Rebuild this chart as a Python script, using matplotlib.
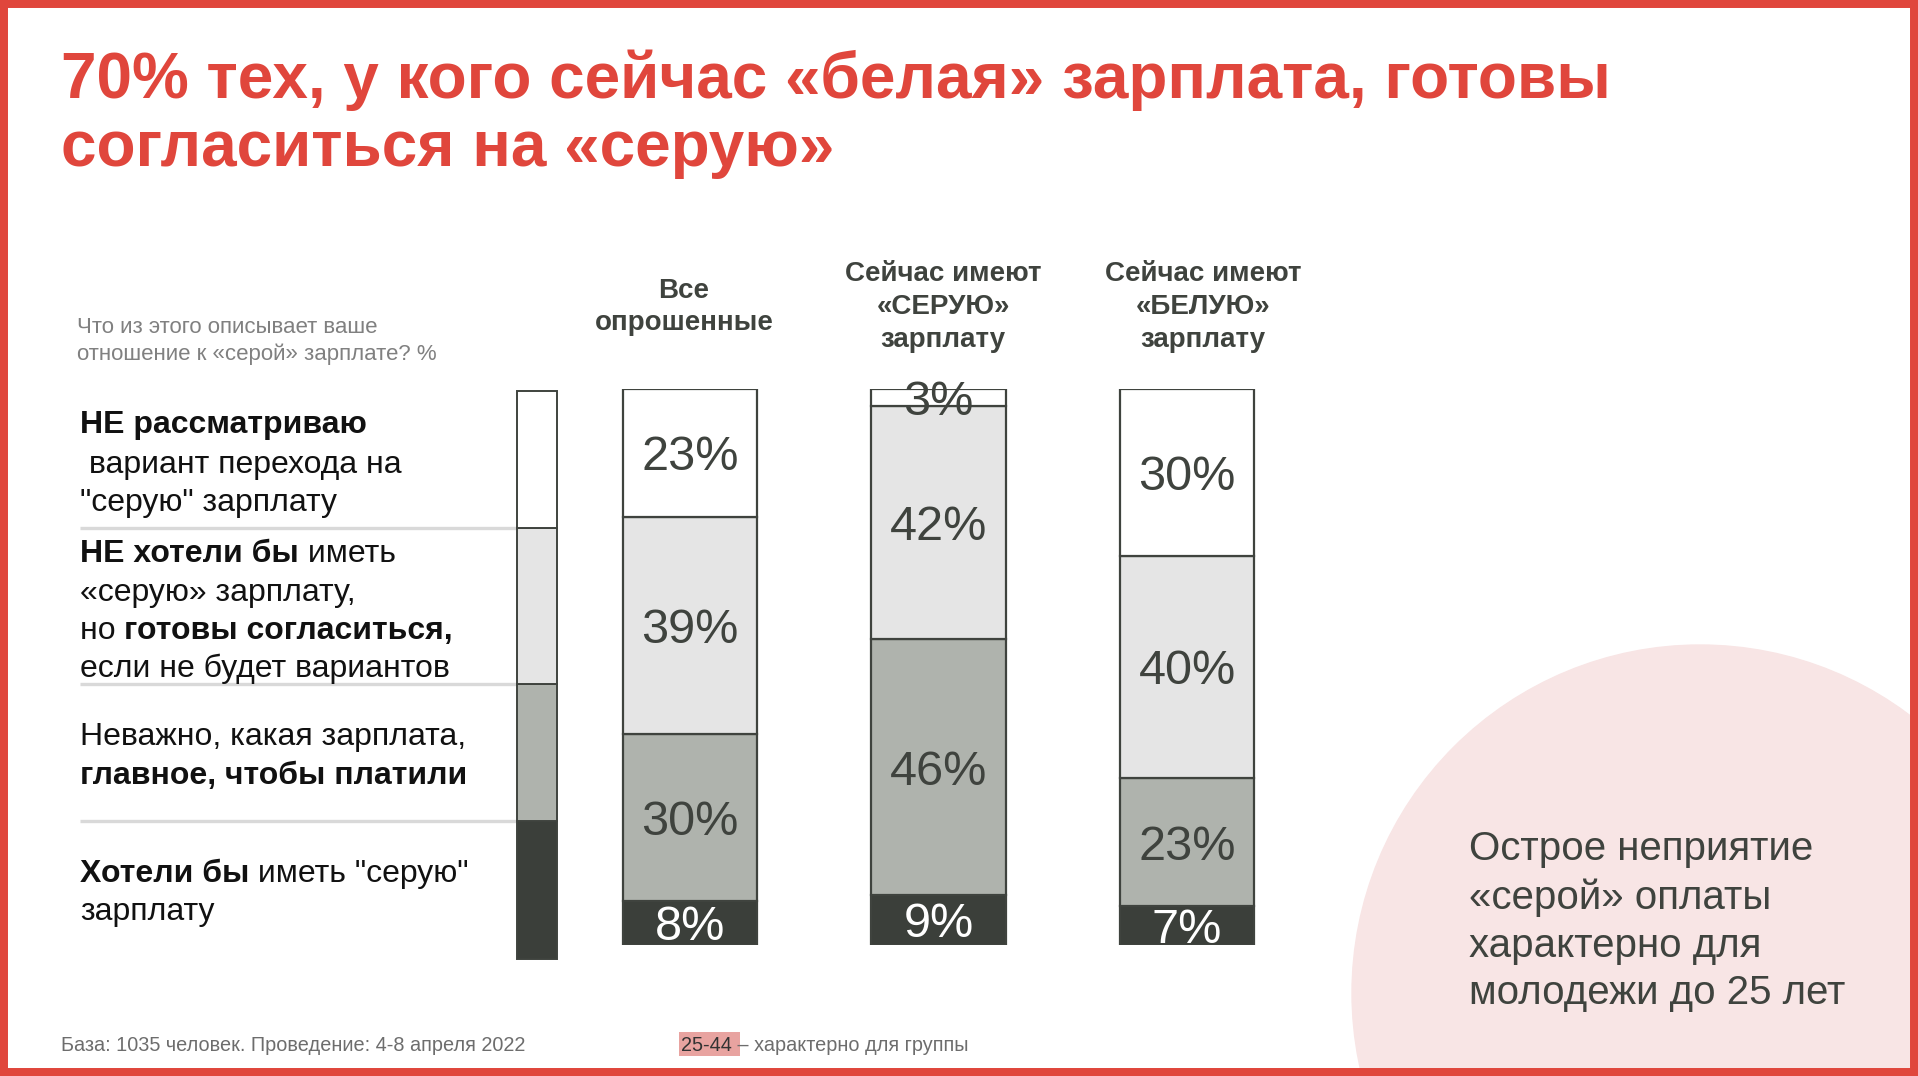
import matplotlib
matplotlib.use('Agg')
import matplotlib.pyplot as plt
from matplotlib.patches import Rectangle, Circle

# --- data ---
groups = ['Все\nопрошенные', 'Сейчас имеют\n«СЕРУЮ»\nзарплату', 'Сейчас имеют\n«БЕЛУЮ»\nзарплату']
reject = [23, 3, 30]       # НЕ рассматриваю
reluctant = [39, 42, 40]   # НЕ хотели бы, но готовы согласиться
neutral = [30, 46, 23]     # Неважно, какая зарплата
want = [8, 9, 7]           # Хотели бы иметь "серую"

title_lines = ['70% тех, у кого сейчас «белая» зарплата, готовы', 'согласиться на «серую»']
question = ['Что из этого описывает ваше', 'отношение к «серой» зарплате? %']
legend_lines = [
    [[('НЕ рассматриваю', 'bold')],
     [(' вариант перехода на', 'normal')],
     [('"серую" зарплату', 'normal')]],
    [[('НЕ хотели бы', 'bold'), (' иметь', 'normal')],
     [('«серую» зарплату,', 'normal')],
     [('но ', 'normal'), ('готовы согласиться,', 'bold')],
     [('если не будет вариантов', 'normal')]],
    [[('Неважно, какая зарплата,', 'normal')],
     [('главное, чтобы платили', 'bold')]],
    [[('Хотели бы', 'bold'), (' иметь "серую"', 'normal')],
     [('зарплату', 'normal')]],
]
note_lines = ['Острое неприятие', '«серой» оплаты', 'характерно для', 'молодежи до 25 лет']
footer = 'База: 1035 человек. Проведение: 4-8 апреля 2022'
group_tag = '25-44'
group_note = ' – характерно для группы'

# --- style ---
RED = '#E0463C'
EDGE = '#3F433E'
TXT = '#3F433E'
seg_colors = ['#3B3F3A', '#AFB3AD', '#E5E5E5', '#FFFFFF']  # bottom -> top

W, H = 1918, 1076
plt.rcParams['font.family'] = ['Liberation Sans', 'DejaVu Sans']

fig = plt.figure(figsize=(W / 100, H / 100), dpi=100)
bg = fig.add_axes([0, 0, 1, 1])
bg.set_xlim(0, W)
bg.set_ylim(H, 0)
bg.axis('off')
renderer = fig.canvas.get_renderer()


def text_width(s, **kw):
    t = bg.text(0, 0, '|' + s + '|', **kw)
    w = t.get_window_extent(renderer).width
    t.remove()
    t = bg.text(0, 0, '||', **kw)
    w0 = t.get_window_extent(renderer).width
    t.remove()
    return w - w0


def rich_line(x, y, runs, **kw):
    for txt, weight in runs:
        bg.text(x, y, txt, fontweight=weight, ha='left', va='baseline', **kw)
        x += text_width(txt, fontweight=weight, **kw)
    return x


# background circle
bg.add_patch(Circle((1700, 993), 348, color='#F8E5E5', zorder=1))

# title
for txt, yb in zip(title_lines, [98, 166]):
    bg.text(61, yb, txt, fontsize=46, fontweight='bold', color=RED, va='baseline', zorder=3)

# question
for txt, yb in zip(question, [333, 360]):
    bg.text(77, yb, txt, fontsize=16, color='#808080', va='baseline', zorder=3)

# legend text and separators
legend_baselines = [[433, 473, 511], [562, 601, 639, 677], [745, 784], [882, 920]]
for block, ys in zip(legend_lines, legend_baselines):
    for runs, yb in zip(block, ys):
        rich_line(80, yb, runs, fontsize=23, color='#111111', zorder=3)

legend_edges = [959, 821, 684, 528, 391]  # bottom -> top
for y in legend_edges[1:4]:
    bg.plot([80, 517], [y, y], color='#D9D9D9', lw=2.4, solid_capstyle='butt', zorder=2)
for i, c in enumerate(seg_colors):
    y0, y1 = legend_edges[i], legend_edges[i + 1]
    bg.add_patch(Rectangle((517, y1), 40, y0 - y1, facecolor=c, edgecolor=EDGE, lw=1.4, zorder=3))

# bars
bx0, bx1 = 690 - 248.5 / 2, 1187 + 248.5 / 2
by_top, by_bot = 389, 945
ax = fig.add_axes([bx0 / W, (H - by_bot) / H, (bx1 - bx0) / W, (by_bot - by_top) / H])
ax.set_xlim(-0.5, 2.5)
ax.set_ylim(0, 100)
ax.axis('off')
ax.patch.set_alpha(0)

xs = list(range(len(groups)))
bottom = [0] * len(groups)
for vals, color in zip([want, neutral, reluctant, reject], seg_colors):
    ax.bar(xs, vals, 0.543, bottom=bottom, color=color, edgecolor=EDGE, lw=1.6)
    lab_color = 'white' if vals is want else TXT
    for x, v, b in zip(xs, vals, bottom):
        ax.text(x, b + v / 2, f'{v}%', ha='center', va='center_baseline',
                fontsize=35, color=lab_color, clip_on=False)
    bottom = [b + v for b, v in zip(bottom, vals)]

# column headers sit slightly off the bar centres in the original slide
head_px = [684, 943, 1203]
for hx, g in zip(head_px, groups):
    bg.text(hx, 307, g, ha='center', va='center', fontsize=20, fontweight='bold',
            color=TXT, linespacing=1.33, zorder=3)

# note in circle
for txt, yb in zip(note_lines, [860, 909, 957, 1004]):
    bg.text(1469, yb, txt, fontsize=29, color=TXT, va='baseline', zorder=3)

# footer
bg.text(61, 1051, footer, fontsize=14.3, color='#6D6D6D', va='baseline', zorder=3)
bg.add_patch(Rectangle((679, 1032), 61, 24, color='#E8A3A0', lw=0, zorder=2))
xe = rich_line(681, 1051, [(group_tag, 'normal')], fontsize=14.3, color='#333333', zorder=3)
bg.text(xe, 1051, group_note, fontsize=14.3, color='#6D6D6D', va='baseline', zorder=3)

# red frame
bg.add_patch(Rectangle((0, 0), W, H, fill=False, edgecolor=RED, lw=11.5, zorder=6))

fig.savefig('out.png', dpi=100)
